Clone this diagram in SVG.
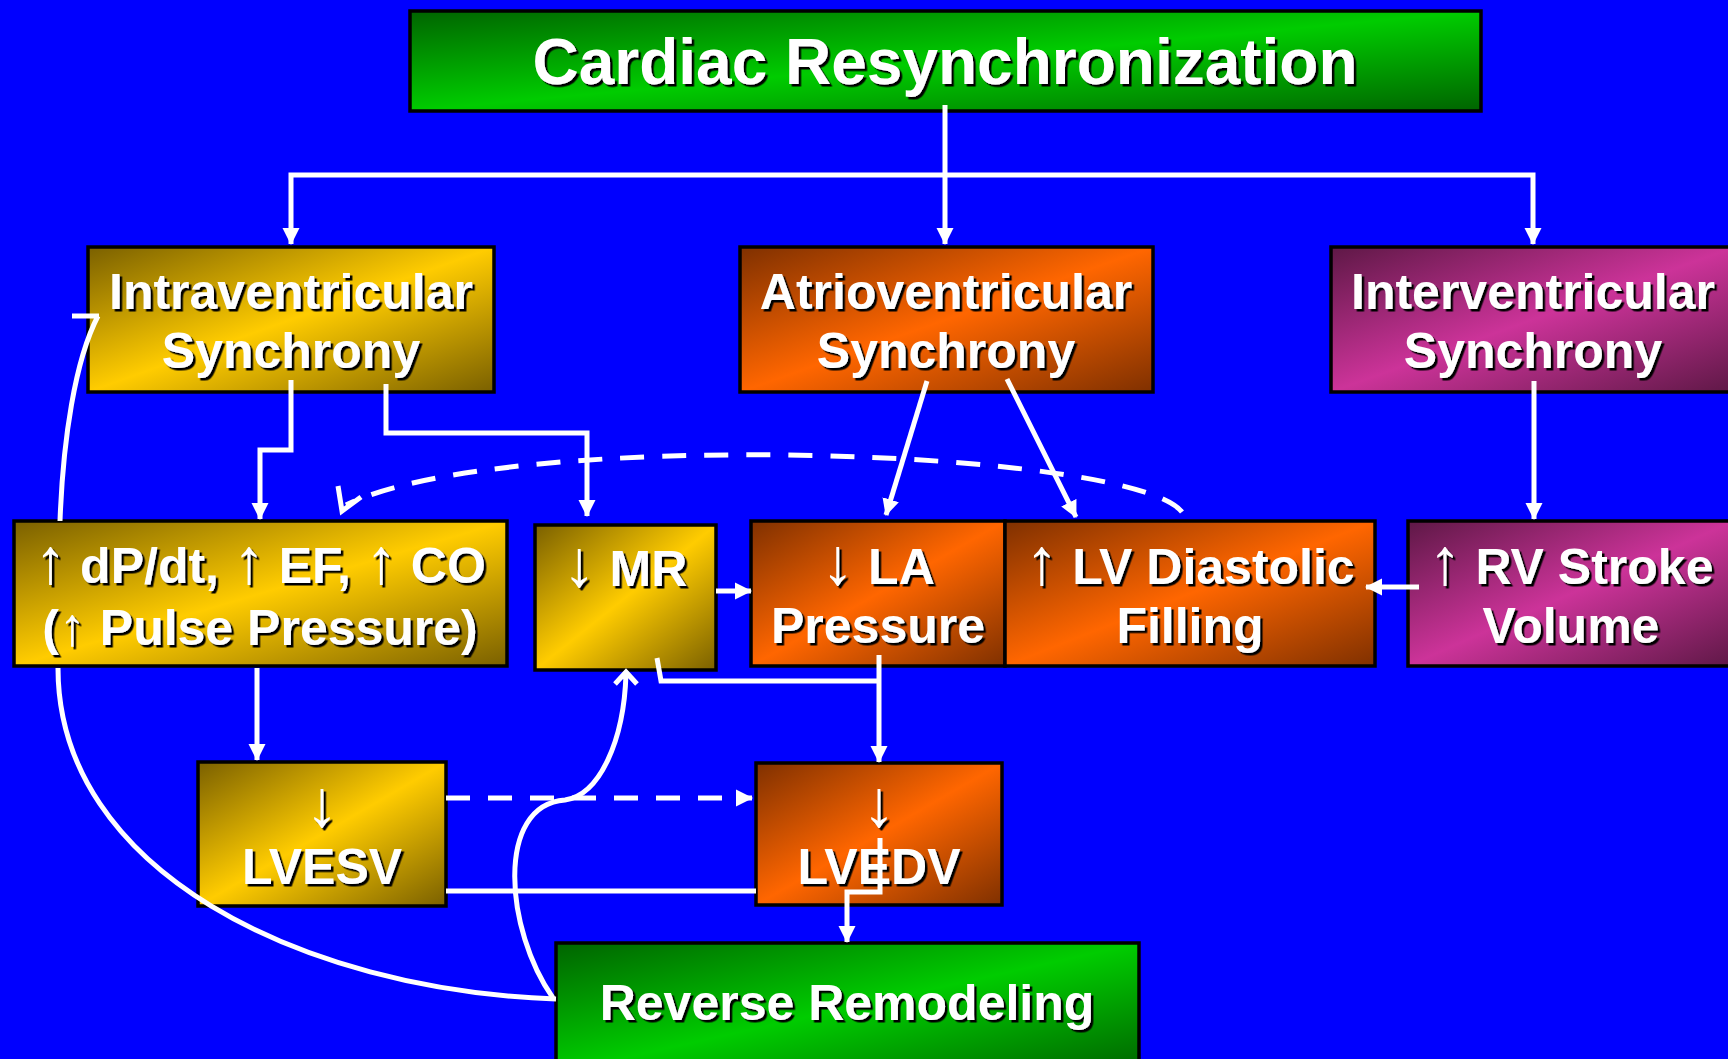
<svg xmlns="http://www.w3.org/2000/svg" width="1728" height="1059" viewBox="0 0 1728 1059">
<defs>
<linearGradient id="gY" x1="0" y1="0" x2="1" y2="1"><stop offset="0" stop-color="#7a6000"/><stop offset="0.5" stop-color="#ffcc00"/><stop offset="1" stop-color="#7a6000"/></linearGradient>
<linearGradient id="gO" x1="0" y1="0" x2="1" y2="1"><stop offset="0" stop-color="#7f3000"/><stop offset="0.5" stop-color="#ff6600"/><stop offset="1" stop-color="#7f3000"/></linearGradient>
<linearGradient id="gM" x1="0" y1="0" x2="1" y2="1"><stop offset="0" stop-color="#5e1846"/><stop offset="0.5" stop-color="#cc3399"/><stop offset="1" stop-color="#5e1846"/></linearGradient>
<linearGradient id="gG" x1="0" y1="0" x2="1" y2="1"><stop offset="0" stop-color="#006400"/><stop offset="0.5" stop-color="#00cc00"/><stop offset="1" stop-color="#006400"/></linearGradient>
<filter id="sh" x="-5%" y="-5%" width="110%" height="120%"><feDropShadow dx="2.5" dy="2.5" stdDeviation="0" flood-color="#000" flood-opacity="1"/></filter>
<marker id="ah" markerUnits="userSpaceOnUse" markerWidth="18" markerHeight="18" viewBox="0 0 18 18" refX="16" refY="9" orient="auto"><path d="M0,0.5 L17,9 L0,17.5 Z" fill="#fff"/></marker>
</defs>
<style>
.box{stroke:#000;stroke-width:3.5}
.t{font-family:"Liberation Sans",Arial,sans-serif;font-weight:bold;font-size:50px;fill:#fff;text-anchor:middle;filter:url(#sh)}
.title{font-size:64px}
.ar{font-weight:normal;font-size:66px}
.ar1{font-weight:normal;font-size:64px}
.ar2{font-weight:normal;font-size:54px}
.c{fill:none;stroke:#fff;stroke-width:5}
.d{stroke-dasharray:24 18}
.m{marker-end:url(#ah)}
</style>
<rect width="1728" height="1059" fill="#0000ff"/>

<g id="cardiac-resync">
<rect class="box" x="410" y="11" width="1071" height="100" fill="url(#gG)"/>
<text class="t title" x="945" y="84">Cardiac Resynchronization</text>
</g>
<g id="intraventricular">
<rect class="box" x="88" y="247" width="406" height="145" fill="url(#gY)"/>
<text class="t"><tspan x="291" y="309">Intraventricular</tspan><tspan x="291" y="368">Synchrony</tspan></text>
</g>
<g id="atrioventricular">
<rect class="box" x="740" y="247" width="413" height="145" fill="url(#gO)"/>
<text class="t"><tspan x="946" y="309">Atrioventricular</tspan><tspan x="946" y="368">Synchrony</tspan></text>
</g>
<g id="interventricular">
<rect class="box" x="1331" y="247" width="404" height="145" fill="url(#gM)"/>
<text class="t"><tspan x="1533" y="309">Interventricular</tspan><tspan x="1533" y="368">Synchrony</tspan></text>
</g>
<g id="dpdt">
<rect class="box" x="14" y="521" width="493" height="145" fill="url(#gY)"/>
<text class="t"><tspan x="260" y="583"><tspan class="ar1">↑</tspan> dP/dt, <tspan class="ar1">↑</tspan> EF, <tspan class="ar1">↑</tspan> CO</tspan><tspan x="260" y="645">(<tspan class="ar2">↑</tspan> Pulse Pressure)</tspan></text>
</g>
<g id="mr">
<rect class="box" x="535" y="525" width="181" height="145" fill="url(#gY)"/>
<text class="t" x="625" y="586"><tspan class="ar">↓</tspan> MR</text>
</g>
<g id="la-pressure">
<rect class="box" x="751" y="521" width="254" height="145" fill="url(#gO)"/>
<text class="t"><tspan x="878" y="584"><tspan class="ar">↓</tspan> LA</tspan><tspan x="878" y="643">Pressure</tspan></text>
</g>
<g id="lv-diastolic">
<rect class="box" x="1005" y="521" width="370" height="145" fill="url(#gO)"/>
<text class="t"><tspan x="1190" y="584"><tspan class="ar">↑</tspan> LV Diastolic</tspan><tspan x="1190" y="643">Filling</tspan></text>
</g>
<g id="rv-stroke">
<rect class="box" x="1408" y="521" width="326" height="145" fill="url(#gM)"/>
<text class="t"><tspan x="1571" y="584"><tspan class="ar">↑</tspan> RV Stroke</tspan><tspan x="1571" y="643">Volume</tspan></text>
</g>
<g id="lvesv">
<rect class="box" x="198" y="762" width="248" height="144" fill="url(#gY)"/>
<text class="t"><tspan class="ar" x="322" y="826">↓</tspan><tspan x="322" y="884">LVESV</tspan></text>
</g>
<g id="lvedv">
<rect class="box" x="756" y="763" width="246" height="142" fill="url(#gO)"/>
<text class="t"><tspan class="ar" x="879" y="826">↓</tspan><tspan x="879" y="884">LVEDV</tspan></text>
</g>
<g id="reverse-remodeling">
<rect class="box" x="556" y="943" width="583" height="130" fill="url(#gG)"/>
<text class="t" x="847" y="1020">Reverse Remodeling</text>
</g>

<g id="connectors">
<path class="c m" d="M945,105 L945,244"/>
<path class="c m" d="M945,175 L291,175 L291,244"/>
<path class="c m" d="M945,175 L1533,175 L1533,244"/>
<path class="c m" d="M291,380 L291,450 L260,450 L260,519"/>
<path class="c m" d="M386,384 L386,433 L587,433 L587,516"/>
<path class="c m" d="M927,381 L886,515"/>
<path class="c m" d="M1007,379 L1076,517"/>
<path class="c m" d="M1534,381 L1534,519"/>
<path class="c m" d="M1419,587 L1366,587"/>
<path class="c m" d="M716,591 L751,591"/>
<path class="c m" d="M257,668 L257,760"/>
<path class="c m" d="M879,655 L879,762"/>
<path class="c" d="M657,658 L661,681 L879,681"/>
<path class="c d m" d="M446,798 L752,798"/>
<path class="c" d="M446,891 L756,891"/>
<path class="c m" d="M880,838 L880,892 L847,892 L847,942"/>
<path class="c" d="M556,999 C300,990 58,870 58,668"/>
<path class="c" d="M60,521 C63,440 75,360 98,316 M72,316 L99,316"/>
<path class="c" d="M553,998 C505,930 495,805 565,800 C600,795 624,740 626,674 M615,684 L626,672 L637,684"/>
<path class="c d" d="M1182,512 C1130,447 500,428 346,505"/>
<path class="c" d="M338,486 L342,511 L361,497"/>
</g>
</svg>
